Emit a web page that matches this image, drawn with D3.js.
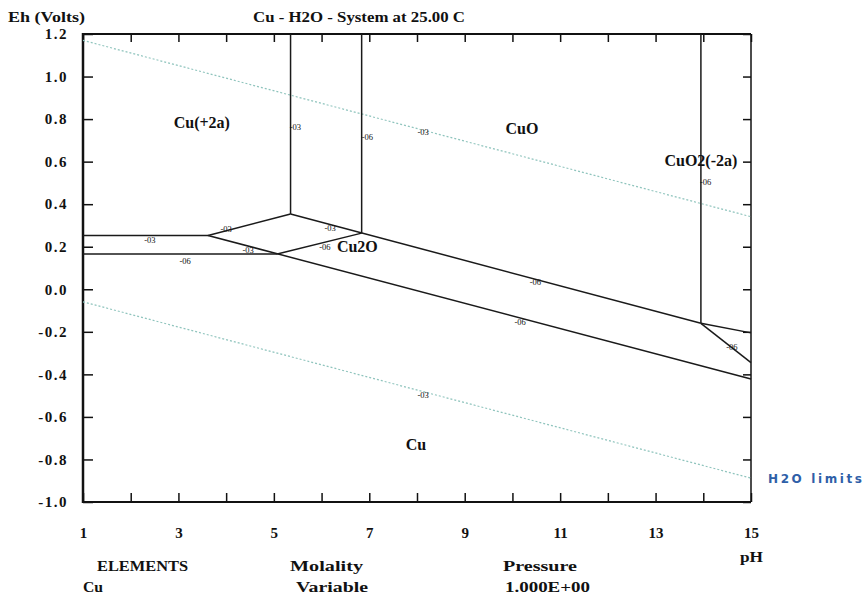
<!DOCTYPE html>
<html>
<head>
<meta charset="utf-8">
<script src="https://cdn.jsdelivr.net/npm/d3@7"></script>
<style>
  body { margin: 0; background: #fff; }
  svg { display: block; }
  .serif { font-family: "Liberation Serif", "Times New Roman", serif; font-weight: bold; fill: #111; }
  .axis text { font-family: "Liberation Serif", "Times New Roman", serif; font-weight: bold; font-size: 15px; fill: #111; }
  .axis line { stroke: #111; stroke-width: 1.5; }
  .tiny { font-family: "Liberation Serif", "Times New Roman", serif; font-size: 8.5px; fill: #111; }
</style>
</head>
<body>
<svg id="chart" width="864" height="598"></svg>
<script>
// ticks
const phTicks = [1,2,3,4,5,6,7,8,9,10,11,12,13,14,15];
const ehTicks = [-1.0,-0.8,-0.6,-0.4,-0.2,0.0,0.2,0.4,0.6,0.8,1.0,1.2];

// water stability limits (pH, Eh)
const h2oUpper = [[1, 1.17], [15, 0.341]];
const h2oLower = [[1, -0.059], [15, -0.888]];

// phase boundaries, pH / Eh pairs
const boundaries = [
  [[1, 0.253], [3.62, 0.253]],
  [[1, 0.166], [5.07, 0.166]],
  [[3.62, 0.253], [5.35, 0.354]],
  [[5.35, 0.354], [5.35, 1.2]],
  [[6.84, 0.264], [6.84, 1.2]],
  [[5.07, 0.166], [6.84, 0.264]],
  [[3.62, 0.253], [15, -0.422]],
  [[5.35, 0.354], [13.95, -0.16]],
  [[13.95, -0.16], [13.95, 1.2]],
  [[13.95, -0.16], [15, -0.205]],
  [[13.95, -0.16], [15, -0.345]]
];

// little log-activity tags on lines
const lineTags = [
  [2.40, 0.231, "-03"], [3.14, 0.133, "-06"], [4.00, 0.283, "-03"],
  [4.46, 0.184, "-03"], [6.18, 0.288, "-03"], [6.07, 0.199, "-06"],
  [5.45, 0.763, "-03"], [6.96, 0.716, "-06"], [14.05, 0.504, "-06"],
  [10.48, 0.034, "-06"], [10.16, -0.154, "-06"], [14.6, -0.27, "-06"],
  [8.13, 0.739, "-03"], [8.13, -0.497, "-03"]
];

// species fields
const species = [
  [3.49, 0.786, "Cu(+2a)"],
  [10.2, 0.758, "CuO"],
  [13.95, 0.608, "CuO2(-2a)"],
  [6.75, 0.20, "Cu2O"],
  [7.98, -0.73, "Cu"]
];

const svg = d3.select("#chart");
const mLeft = 83, mRight = 751, mTop = 34, mBottom = 502;

let x = d3.scaleLinear().domain([1, 15]).range([mLeft, mRight]);
let y = d3.scaleLinear().domain([-1.0, 1.2]).range([mBottom, mTop]);

// axes, ticks pointing inwards
svg.append("g").attr("class", "axis")
    .attr("transform", `translate(0,${mBottom})`)
    .call(d3.axisBottom(x).tickValues(phTicks).tickSizeInner(-9).tickSizeOuter(0)
        .tickPadding(25).tickFormat(d => d % 2 ? d : ""));
svg.append("g").attr("class", "axis")
    .attr("transform", `translate(0,${mTop})`)
    .call(d3.axisTop(x).tickValues(phTicks).tickSizeInner(-8).tickSizeOuter(0).tickFormat(""));
let yl = svg.append("g").attr("class", "axis")
    .attr("transform", `translate(${mLeft},0)`)
    .call(d3.axisLeft(y).tickValues(ehTicks).tickSizeInner(-10).tickSizeOuter(0)
        .tickPadding(15).tickFormat(d => d.toFixed(1)));
svg.append("g").attr("class", "axis")
    .attr("transform", `translate(${mRight},0)`)
    .call(d3.axisRight(y).tickValues(ehTicks).tickSizeInner(-8).tickSizeOuter(0).tickFormat(""));

svg.selectAll(".axis .domain").remove();
yl.selectAll("text").attr("letter-spacing", 1.5);

// frame
svg.append("line").attr("x1", mLeft).attr("x2", mLeft).attr("y1", mTop - 1).attr("y2", mBottom + 1)
    .attr("stroke", "#111").attr("stroke-width", 2.5);
svg.append("line").attr("x1", mLeft).attr("x2", mRight).attr("y1", mBottom).attr("y2", mBottom)
    .attr("stroke", "#111").attr("stroke-width", 2);
svg.append("line").attr("x1", mLeft).attr("x2", mRight).attr("y1", mTop).attr("y2", mTop)
    .attr("stroke", "#111").attr("stroke-width", 2);
svg.append("line").attr("x1", mRight).attr("x2", mRight).attr("y1", mTop).attr("y2", mBottom)
    .attr("stroke", "#111").attr("stroke-width", 1.5);

let line = d3.line().x(d => x(d[0])).y(d => y(d[1]));

// water limits
svg.selectAll(".h2o")
    .data([h2oUpper, h2oLower])
    .enter().append("path")
    .attr("class", "h2o")
    .attr("d", line)
    .attr("fill", "none")
    .attr("stroke", "#8fc4bd")
    .attr("stroke-width", 1.2)
    .attr("stroke-dasharray", "2,2");

// phase boundaries
svg.selectAll(".bnd")
    .data(boundaries)
    .enter().append("path")
    .attr("class", "bnd")
    .attr("d", line)
    .attr("fill", "none")
    .attr("stroke", "#1a1a1a")
    .attr("stroke-width", 1.5);

svg.selectAll(".tag")
    .data(lineTags)
    .enter().append("text")
    .attr("class", "tiny")
    .attr("x", d => x(d[0]))
    .attr("y", d => y(d[1]))
    .attr("dy", "0.35em")
    .attr("text-anchor", "middle")
    .text(d => d[2]);

svg.selectAll(".species")
    .data(species)
    .enter().append("text")
    .attr("class", "serif")
    .attr("font-size", 16)
    .attr("x", d => x(d[0]))
    .attr("y", d => y(d[1]))
    .attr("dy", "0.35em")
    .attr("text-anchor", "middle")
    .text(d => d[2]);

// titles and footer
function label(txt, x0, y0, w, size) {
    let t = svg.append("text").attr("class", "serif")
        .attr("x", x0).attr("y", y0)
        .attr("font-size", size || 15)
        .text(txt);
    if (w) t.attr("textLength", w).attr("lengthAdjust", "spacingAndGlyphs");
    return t;
}
label("Eh (Volts)", 8, 22, 77);
label("Cu - H2O - System at 25.00 C", 253, 22, 212);
label("pH", 740, 562, 23);
label("ELEMENTS", 97, 571, 91);
label("Cu", 83, 592, 20);
label("Molality", 290, 571, 73);
label("Variable", 296, 592, 72);
label("Pressure", 503, 571, 74);
label("1.000E+00", 505, 592, 85);

svg.append("text")
    .attr("x", 768).attr("y", 483)
    .attr("font-family", "'DejaVu Sans', Verdana, sans-serif")
    .attr("font-weight", "bold")
    .attr("font-size", 12)
    .attr("fill", "#2f5fa8")
    .attr("textLength", 94)
    .attr("lengthAdjust", "spacing")
    .text("H2O limits");
</script>
</body>
</html>
